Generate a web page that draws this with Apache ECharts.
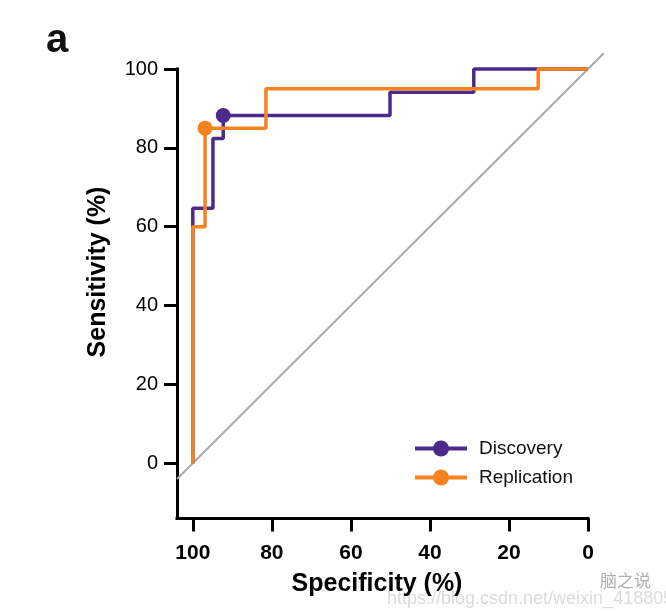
<!DOCTYPE html>
<html>
<head>
<meta charset="utf-8">
<script src="https://cdn.jsdelivr.net/npm/echarts@6/dist/echarts.min.js"></script>
<style>
html,body{margin:0;padding:0;background:#fff;}
#chart{width:666px;height:615px;}
</style>
</head>
<body>
<div id="chart"></div>
<script>
// ROC corner points (specificity %, sensitivity %), drawn as step curves
var discoverySpec = [100, 100, 94.9, 92.3, 50.1, 28.9, 0];
var discoverySens = [0, 64.7, 82.4, 88.2, 94.1, 100, 100];
var replicationSpec = [100, 100, 96.9, 81.5, 12.6, 0];
var replicationSens = [0, 60, 85, 95, 100, 100];
// optimal cut-off points (marked by circles)
var discoveryCutoff = [92.3, 88.2];
var replicationCutoff = [96.9, 85];
// reference diagonal (chance line), extends a little past the axes
var diagonalSpec = [104, -4];
var diagonalSens = [-4, 104];
// tick labels
var xTicks = [100, 80, 60, 40, 20, 0];
var yTicks = [0, 20, 40, 60, 80, 100];

var PURPLE = '#4b2a8c';
var ORANGE = '#f5831f';
var FONT = 'Liberation Sans, Arial, Helvetica, sans-serif';

function pairs(xs, ys) {
  return xs.map(function (x, i) { return [x, ys[i]]; });
}
function sizeFn(cut) {
  return function (v) {
    return (v[0] === cut[0] && v[1] === cut[1]) ? 15 : 0;
  };
}

// main grid geometry: x 0..104 (inverted), y -14..100
var G = {left: 177, right: 78, top: 69, bottom: 96.5};
var pxX = (666 - G.left - G.right) / 104;
var pxY = (615 - G.top - G.bottom) / 114;

var chart = echarts.init(document.getElementById('chart'), null, {renderer: 'canvas'});
chart.setOption({
  animation: false,
  backgroundColor: '#fff',
  textStyle: {fontFamily: FONT},
  grid: [
    {left: G.left, right: G.right, top: G.top, bottom: G.bottom, containLabel: false},
    // same scale, extended to -4 (x) and 104 (y) for the diagonal overshoot
    {left: G.left, right: G.right - 4 * pxX, top: G.top - 4 * pxY, bottom: G.bottom, containLabel: false}
  ],
  xAxis: [{
    type: 'value', inverse: true, min: 0, max: 104, gridIndex: 0,
    name: 'Specificity (%)', nameLocation: 'middle', nameGap: 53,
    nameTextStyle: {fontSize: 25, fontWeight: 'bold', color: '#000', fontFamily: FONT, padding: [0, 11, 0, 0]},
    axisLine: {show: true, onZero: false, lineStyle: {color: '#000', width: 3, cap: 'square'}},
    axisTick: {show: true, customValues: xTicks, length: 13, lineStyle: {color: '#000', width: 3}},
    axisLabel: {customValues: xTicks, margin: 24, fontSize: 21, fontWeight: 'bold', color: '#000', fontFamily: FONT},
    splitLine: {show: false}
  }, {
    type: 'value', inverse: true, min: -4, max: 104, gridIndex: 1, show: false,
    splitLine: {show: false}
  }],
  yAxis: [{
    type: 'value', min: -14, max: 100, gridIndex: 0,
    axisLine: {show: true, onZero: false, lineStyle: {color: '#000', width: 3, cap: 'square'}},
    axisTick: {show: true, customValues: yTicks, length: 13, lineStyle: {color: '#000', width: 3}},
    axisLabel: {customValues: yTicks, margin: 19, fontSize: 20, color: '#000', fontFamily: FONT},
    splitLine: {show: false}
  }, {
    type: 'value', min: -14, max: 104, gridIndex: 1, show: false,
    splitLine: {show: false}
  }],
  legend: {
    orient: 'vertical', left: 408, top: 434, itemWidth: 52, itemHeight: 20, itemGap: 10,
    data: ['Discovery', 'Replication'],
    textStyle: {fontSize: 19, color: '#111', fontFamily: FONT, padding: [0, 0, 0, 7]},
    lineStyle: {width: 4}
  },
  graphic: [
    {type: 'text', left: 46, top: 21, style: {text: 'a', font: 'bold 40px ' + FONT, fill: '#111'}},
    {type: 'text', x: 98, y: 272, rotation: Math.PI / 2, style: {text: 'Sensitivity (%)', font: 'bold 25px ' + FONT, fill: '#000', align: 'center', verticalAlign: 'middle'}},
    {type: 'text', left: 387, top: 590, style: {text: 'https://blog.csdn.net/weixin_41880581', font: '18px ' + FONT, fill: 'rgba(150,150,150,0.35)'}},
    {type: 'text', left: 600, top: 572, style: {text: '脑之说', font: '17px "Noto Sans CJK SC"', fill: 'rgba(120,120,120,0.6)'}}
  ],
  series: [
    {
      name: 'Chance', type: 'line', silent: true, clip: false, symbol: 'none',
      xAxisIndex: 1, yAxisIndex: 1,
      data: pairs(diagonalSpec, diagonalSens),
      lineStyle: {color: '#aaaaaa', width: 2}, z: 1
    },
    {
      name: 'Discovery', type: 'line', step: 'end', silent: true, clip: false,
      symbol: 'circle', symbolSize: sizeFn(discoveryCutoff), showAllSymbol: true,
      data: pairs(discoverySpec, discoverySens),
      lineStyle: {color: PURPLE, width: 3.5}, itemStyle: {color: PURPLE}, z: 2
    },
    {
      name: 'Replication', type: 'line', step: 'end', silent: true, clip: false,
      symbol: 'circle', symbolSize: sizeFn(replicationCutoff), showAllSymbol: true,
      data: pairs(replicationSpec, replicationSens),
      lineStyle: {color: ORANGE, width: 3.5}, itemStyle: {color: ORANGE}, z: 3
    }
  ]
});
</script>
</body>
</html>
